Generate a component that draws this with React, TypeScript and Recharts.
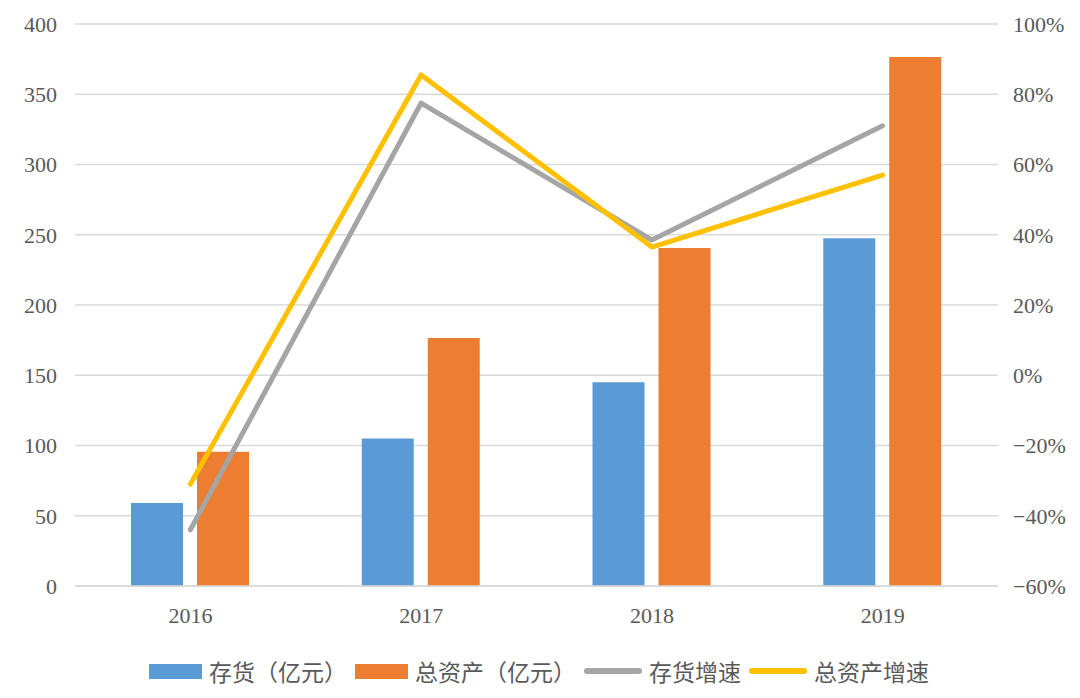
import {
  ComposedChart,
  Bar,
  Line,
  XAxis,
  YAxis,
  CartesianGrid,
  Legend,
} from "recharts";

// values
const years = ["2016", "2017", "2018", "2019"];
const inventory = [59, 105, 145, 247.5]; // 存货（亿元）
const totalAssets = [95.5, 176.5, 240.5, 376.5]; // 总资产（亿元）
const inventoryGrowth = [-44, 77.5, 38.5, 71]; // 存货增速 %
const assetsGrowth = [-31, 85.5, 36.5, 57]; // 总资产增速 %

const leftTicks = [0, 50, 100, 150, 200, 250, 300, 350, 400];
const rightTicks = [-60, -40, -20, 0, 20, 40, 60, 80, 100];

const data = years.map((year, i) => ({
  year,
  inventory: inventory[i],
  totalAssets: totalAssets[i],
  inventoryGrowth: inventoryGrowth[i],
  assetsGrowth: assetsGrowth[i],
}));

const BLUE = "#5b9bd5";
const ORANGE = "#ed7d31";
const GRAY = "#a5a5a5";
const YELLOW = "#ffc000";
const TEXT = "#595959";
const GRID = "#d9d9d9";

const tickStyle = {
  fontFamily: "'Liberation Serif', 'DejaVu Serif', serif",
  fontSize: 22,
  fill: TEXT,
};

const legendItems = [
  { label: "存货（亿元）", color: BLUE, kind: "box" },
  { label: "总资产（亿元）", color: ORANGE, kind: "box" },
  { label: "存货增速", color: GRAY, kind: "line" },
  { label: "总资产增速", color: YELLOW, kind: "line" },
];

function LegendContent() {
  return (
    <div
      style={{
        display: "flex",
        justifyContent: "center",
        alignItems: "center",
        height: 30,
        fontFamily: "'Noto Sans CJK SC', sans-serif",
        fontSize: 23,
        color: TEXT,
        paddingLeft: 6,
      }}
    >
      {legendItems.map((item) => (
        <div key={item.label} style={{ display: "flex", alignItems: "center", marginRight: 8 }}>
          {item.kind === "box" ? (
            <span style={{ width: 53, height: 15, background: item.color, display: "inline-block" }} />
          ) : (
            <span
              style={{
                width: 58,
                height: 6,
                borderRadius: 3,
                background: item.color,
                display: "inline-block",
              }}
            />
          )}
          <span style={{ marginLeft: 7, whiteSpace: "nowrap", lineHeight: "30px" }}>{item.label}</span>
        </div>
      ))}
    </div>
  );
}

export default function App() {
  return (
    <div style={{ position: "absolute", left: 0, top: 0, background: "#fff" }}>
      <ComposedChart
        width={1080}
        height={698}
        data={data}
        barSize={52}
        barGap={14}
        margin={{ top: 24, right: 0, left: 0, bottom: 42 }}
      >
        <CartesianGrid vertical={false} stroke={GRID} strokeWidth={1.5} yAxisId="left" />
        <XAxis
          dataKey="year"
          axisLine={{ stroke: GRID, strokeWidth: 1.5 }}
          tickLine={false}
          tick={tickStyle}
          tickMargin={15}
          height={40}
        />
        <YAxis
          yAxisId="left"
          domain={[0, 400]}
          ticks={leftTicks}
          axisLine={false}
          tickLine={false}
          tick={tickStyle}
          tickMargin={12}
          width={75}
        />
        <YAxis
          yAxisId="right"
          orientation="right"
          domain={[-60, 100]}
          ticks={rightTicks}
          axisLine={false}
          tickLine={false}
          tick={{ ...tickStyle, textAnchor: "start" }}
          tickMargin={9}
          width={82}
          tickFormatter={(v: number) => `${v < 0 ? "\u2212" + Math.abs(v) : v}%`}
        />
        <Bar yAxisId="left" dataKey="inventory" fill={BLUE} isAnimationActive={false} />
        <Bar yAxisId="left" dataKey="totalAssets" fill={ORANGE} isAnimationActive={false} />
        <Line
          yAxisId="right"
          dataKey="inventoryGrowth"
          stroke={GRAY}
          strokeWidth={5}
          strokeLinecap="round"
          strokeLinejoin="round"
          dot={false}
          isAnimationActive={false}
        />
        <Line
          yAxisId="right"
          dataKey="assetsGrowth"
          stroke={YELLOW}
          strokeWidth={5}
          strokeLinecap="round"
          strokeLinejoin="round"
          dot={false}
          isAnimationActive={false}
        />
        <Legend
          verticalAlign="bottom"
          height={30}
          content={() => <LegendContent />}
          wrapperStyle={{ top: 656, left: 0, width: 1080 }}
        />
      </ComposedChart>
    </div>
  );
}
